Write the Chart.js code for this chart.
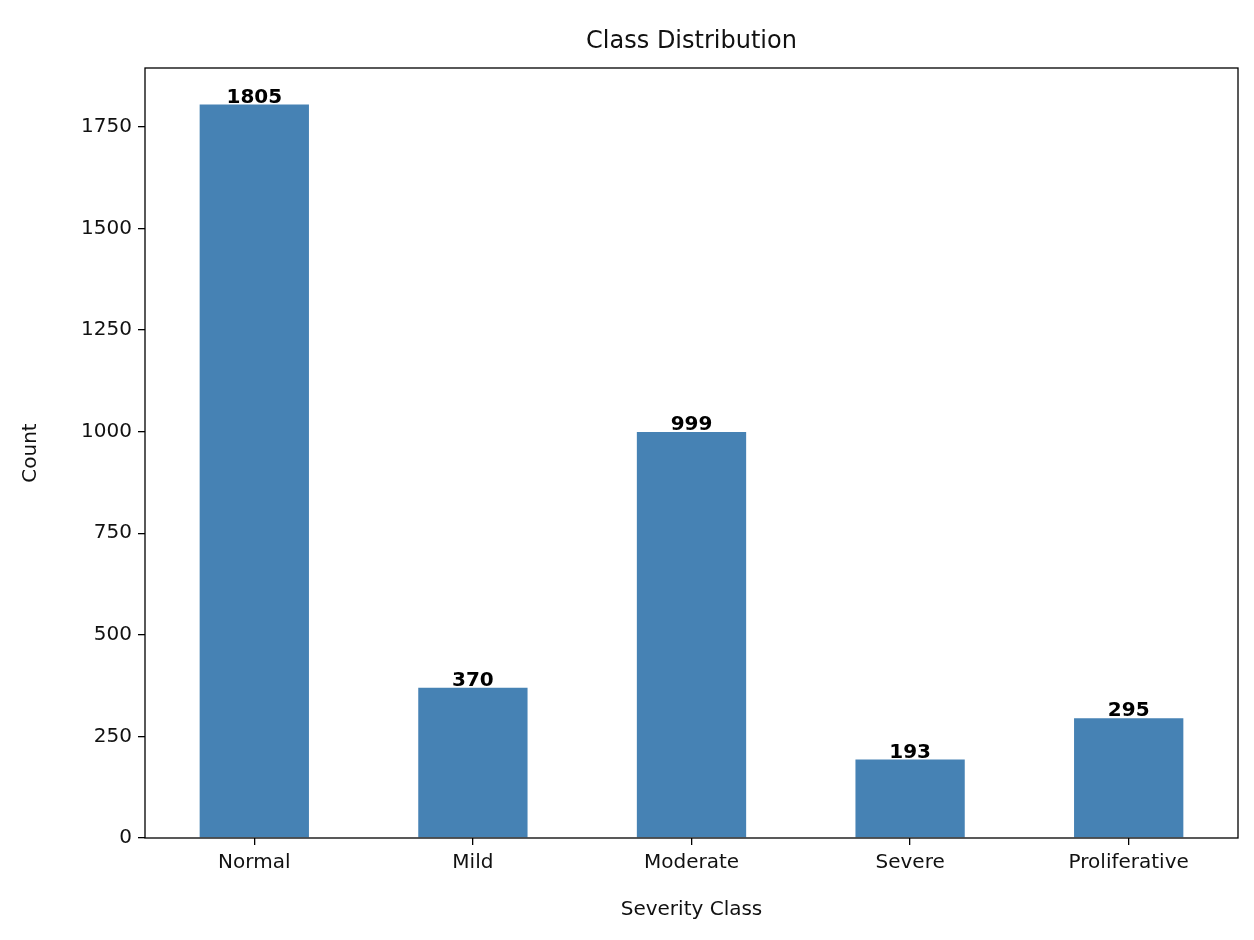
<!DOCTYPE html>
<html>
<head>
<meta charset="utf-8">
<script src="https://cdn.jsdelivr.net/npm/chart.js@4"></script>
<style>
  html, body { margin: 0; padding: 0; background: #fff; }
  #wrap { width: 1254px; height: 940px; }
</style>
</head>
<body>
<div id="wrap"><canvas id="c" width="1254" height="940"></canvas></div>
<script>
const categories = ["Normal", "Mild", "Moderate", "Severe", "Proliferative"];
const counts = [1805, 370, 999, 193, 295];
const yTicks = [0, 250, 500, 750, 1000, 1250, 1500, 1750];

const FONT = "'DejaVu Sans', sans-serif";

// title, axis titles, frame and bar labels
const decor = {
  id: "decor",
  afterDraw(chart) {
    const { ctx, chartArea: { top, bottom, left, right } } = chart;
    const meta = chart.getDatasetMeta(0);
    ctx.save();
    ctx.strokeStyle = "#000";
    ctx.lineWidth = 1.3;
    ctx.strokeRect(left, top, right - left, bottom - top);

    ctx.fillStyle = "#000";
    ctx.textAlign = "center";
    ctx.textBaseline = "alphabetic";
    ctx.font = "bold 20px " + FONT;
    meta.data.forEach((bar, i) => {
      ctx.fillText(String(counts[i]), bar.x, bar.y - 2);
    });

    ctx.fillStyle = "#111";
    ctx.font = "24px " + FONT;
    ctx.fillText("Class Distribution", (left + right) / 2, 48);
    ctx.font = "20px " + FONT;
    ctx.fillText("Severity Class", (left + right) / 2, 915);
    ctx.translate(36, (top + bottom) / 2);
    ctx.rotate(-Math.PI / 2);
    ctx.fillText("Count", 0, 0);
    ctx.restore();
  }
};

new Chart(document.getElementById("c"), {
  type: "bar",
  data: {
    labels: categories,
    datasets: [{
      data: counts,
      backgroundColor: "#4682b4",
      barPercentage: 0.5,
      categoryPercentage: 1.0
    }]
  },
  options: {
    responsive: false,
    animation: false,
    layout: { padding: { top: 68, right: 16, left: 0, bottom: 0 } },
    plugins: { legend: { display: false }, tooltip: { enabled: false } },
    scales: {
      x: {
        grid: { offset: false, drawOnChartArea: false, drawTicks: true, tickLength: 7, color: "#000", lineWidth: 1.3 },
        border: { display: false },
        ticks: { color: "#111", font: { family: FONT, size: 20 }, padding: 6 },
        afterFit(s) { s.height = 102; }
      },
      y: {
        min: 0,
        max: 1895,
        grid: { drawOnChartArea: false, drawTicks: true, tickLength: 7, color: "#000", lineWidth: 1.3 },
        border: { display: false },
        ticks: { color: "#111", font: { family: FONT, size: 20 }, padding: 6, callback: v => String(v) },
        afterBuildTicks(s) { s.ticks = yTicks.map(v => ({ value: v })); },
        afterFit(s) { s.width = 145; }
      }
    }
  },
  plugins: [decor]
});
</script>
</body>
</html>
